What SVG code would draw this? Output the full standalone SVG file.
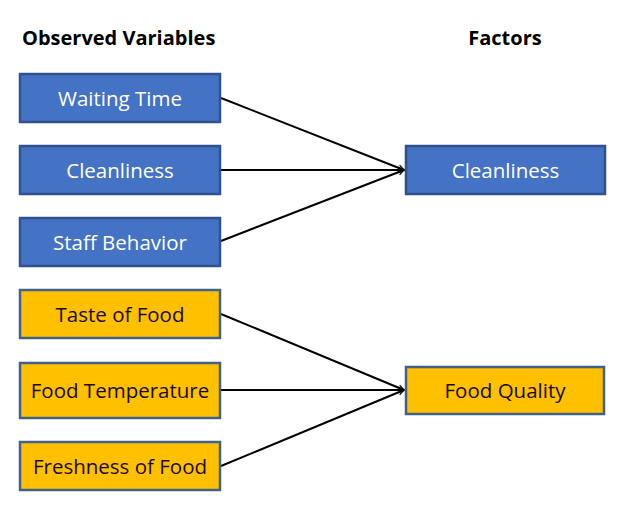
<svg xmlns="http://www.w3.org/2000/svg" width="622" height="506" viewBox="0 0 622 506">
  <defs>
    <style>
      .head { font-family: "Open Sans", "Liberation Sans", sans-serif; font-size: 20px; font-weight: bold; fill: #000; }
      .lbl { font-family: "Open Sans", "Liberation Sans", sans-serif; font-size: 20.5px; text-anchor: middle; }
      .blue rect { fill: #4472C4; stroke: #2F528F; stroke-width: 2.5; }
      .blue text { fill: #FFFFFF; }
      .gold rect { fill: #FFC000; stroke: #41608A; stroke-width: 2.5; }
      .gold text { fill: #1A0A00; }
      .edge { stroke: #000; stroke-width: 2; fill: none; marker-end: url(#arrow); }
    </style>
    <marker id="arrow" viewBox="0 0 12 12" refX="11" refY="6" markerWidth="7" markerHeight="7" markerUnits="userSpaceOnUse" orient="auto" overflow="visible">
      <path d="M1,1 L11,6 L1,11" fill="none" stroke="#000" stroke-width="2"/>
    </marker>
  </defs>
  <rect width="622" height="506" fill="#FFFFFF"/>

  <text class="head" x="22" y="45">Observed Variables</text>
  <text class="head" x="505" y="45" text-anchor="middle">Factors</text>

  <g id="connectors">
    <line class="edge" x1="221" y1="98" x2="404" y2="170"/>
    <line class="edge" x1="221" y1="170" x2="404" y2="170"/>
    <line class="edge" x1="221" y1="241" x2="404" y2="170"/>
    <line class="edge" x1="221" y1="314" x2="404" y2="390"/>
    <line class="edge" x1="221" y1="390" x2="404" y2="390"/>
    <line class="edge" x1="221" y1="466" x2="404" y2="390"/>
  </g>

  <g id="waiting-time" class="blue">
    <rect x="20" y="74" width="200" height="48"/>
    <text class="lbl" x="120" y="105.5">Waiting Time</text>
  </g>
  <g id="cleanliness-var" class="blue">
    <rect x="20" y="146" width="200" height="48"/>
    <text class="lbl" x="120" y="177.5">Cleanliness</text>
  </g>
  <g id="staff-behavior" class="blue">
    <rect x="20" y="218" width="200" height="48"/>
    <text class="lbl" x="120" y="249.5">Staff Behavior</text>
  </g>
  <g id="taste-of-food" class="gold">
    <rect x="20" y="290" width="200" height="48"/>
    <text class="lbl" x="120" y="321.5">Taste of Food</text>
  </g>
  <g id="food-temperature" class="gold">
    <rect x="20" y="363" width="200" height="55"/>
    <text class="lbl" x="120" y="397.5">Food Temperature</text>
  </g>
  <g id="freshness-of-food" class="gold">
    <rect x="20" y="442" width="200" height="48"/>
    <text class="lbl" x="120" y="473.5">Freshness of Food</text>
  </g>

  <g id="cleanliness-factor" class="blue">
    <rect x="406" y="146" width="199" height="48"/>
    <text class="lbl" x="505.5" y="177.5">Cleanliness</text>
  </g>
  <g id="food-quality" class="gold">
    <rect x="406" y="367" width="198" height="47"/>
    <text class="lbl" x="505" y="397.5">Food Quality</text>
  </g>
</svg>
